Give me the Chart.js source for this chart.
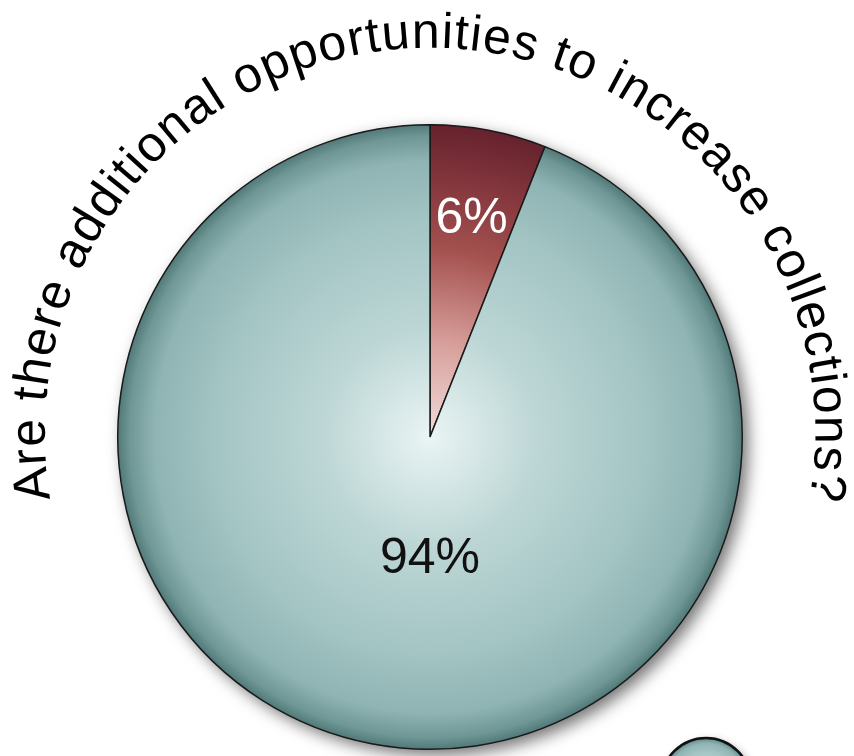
<!DOCTYPE html>
<html lang="en">
<head>
    <meta charset="UTF-8">
    <title>Additional opportunities to increase collections</title>
    <script src="https://cdn.jsdelivr.net/npm/chart.js"></script>
    <style>
        body { margin: 0; background: #fff; }
        .wrap { width: 854px; height: 756px; position: relative; }
    </style>
</head>
<body>
    <div class="wrap">
        <canvas id="pieChart"></canvas>
    </div>

    <script>
        const titleText = 'Are there additional opportunities to increase collections?';
        const answers = ['No', 'Yes'];
        const shares = [6, 94];
        const labelColors = ['#ffffff', '#111111'];

        const FONT = '"Liberation Sans", Arial, Helvetica, sans-serif';

        // radial gradients, light at the centre, dark at the rim
        const gradientStops = [
            [[0, '#f1dcdb'], [0.3, '#d8a09c'], [0.6, '#a4514f'], [0.85, '#7e323a'], [1, '#65222d']],
            [[0, '#eaf4f4'], [0.35, '#bcd6d5'], [0.7, '#a2c4c3'], [0.88, '#8fb4b3'], [0.96, '#6f9796'], [1, '#4f7776']]
        ];

        function arcGradient(ctx, i, x, y, r) {
            const g = ctx.createRadialGradient(x, y, 0, x, y, r);
            gradientStops[i].forEach(s => g.addColorStop(s[0], s[1]));
            return g;
        }

        // gradient centred on the chart area (the pie centre)
        function sliceFill(context) {
            const chart = context.chart;
            const area = chart.chartArea;
            if (!area) return gradientStops[context.dataIndex][2][1];
            const x = (area.left + area.right) / 2;
            const y = (area.top + area.bottom) / 2;
            const r = Math.min(area.right - area.left, area.bottom - area.top) / 2;
            return arcGradient(chart.ctx, context.dataIndex, x, y, r);
        }

        // soft shadow behind the whole pie
        const shadowPlugin = {
            id: 'pieShadow',
            beforeDatasetsDraw(chart) {
                const arc = chart.getDatasetMeta(0).data[0];
                if (!arc) return;
                const ctx = chart.ctx;
                ctx.save();
                ctx.shadowColor = 'rgba(0,0,0,0.55)';
                ctx.shadowBlur = 16;
                ctx.shadowOffsetX = 6;
                ctx.shadowOffsetY = 6;
                ctx.fillStyle = '#8fb4b3';
                ctx.beginPath();
                ctx.arc(arc.x, arc.y, arc.outerRadius, 0, Math.PI * 2);
                ctx.fill();
                ctx.restore();
            }
        };

        // percentage labels and curved title
        const decorPlugin = {
            id: 'decor',
            afterDatasetsDraw(chart) {
                const ctx = chart.ctx;
                const meta = chart.getDatasetMeta(0);
                const total = shares.reduce((a, b) => a + b, 0);
                ctx.save();
                ctx.font = '50px ' + FONT;
                ctx.textAlign = 'center';
                ctx.textBaseline = 'middle';
                meta.data.forEach((arc, i) => {
                    const pct = Math.round(shares[i] / total * 100) + '%';
                    let px, py;
                    if (shares[i] / total > 0.5) {
                        px = arc.x;
                        py = arc.y + arc.outerRadius * 0.39;
                    } else {
                        const mid = (arc.startAngle + arc.endAngle) / 2;
                        px = arc.x + Math.cos(mid) * arc.outerRadius * 0.71;
                        py = arc.y + Math.sin(mid) * arc.outerRadius * 0.71;
                    }
                    ctx.fillStyle = labelColors[i];
                    ctx.fillText(pct, px, py);
                });
                ctx.restore();

                // title along an arc around the pie
                const arc0 = meta.data[0];
                const cx = arc0.x, cy = arc0.y - 4;
                const R = arc0.outerRadius + 73;
                const spacing = 1.3;
                ctx.save();
                ctx.font = '50px ' + FONT;
                ctx.fillStyle = '#000';
                ctx.textAlign = 'center';
                ctx.textBaseline = 'alphabetic';
                const chars = Array.from(titleText);
                const totalW = ctx.measureText(titleText).width + spacing * (chars.length - 1);
                const a = -Math.PI / 2 - totalW / (2 * R);
                let used = 0;
                for (const ch of chars) {
                    const w = ctx.measureText(ch).width;
                    const ang = a + (used + w / 2) / R;
                    ctx.save();
                    ctx.translate(cx + Math.cos(ang) * R, cy + Math.sin(ang) * R);
                    ctx.rotate(ang + Math.PI / 2);
                    ctx.fillText(ch, 0, 0);
                    ctx.restore();
                    used += w + spacing;
                }
                ctx.restore();

                // legend bubble, cut off at the lower edge
                ctx.save();
                const bx = 706, by = 783, br = 45;
                ctx.shadowColor = 'rgba(0,0,0,0.4)';
                ctx.shadowBlur = 8;
                ctx.shadowOffsetX = 3;
                ctx.shadowOffsetY = 3;
                ctx.fillStyle = arcGradient(ctx, 1, bx, by, br);
                ctx.beginPath();
                ctx.arc(bx, by, br, 0, Math.PI * 2);
                ctx.fill();
                ctx.shadowColor = 'transparent';
                ctx.lineWidth = 2.5;
                ctx.strokeStyle = '#111';
                ctx.stroke();
                ctx.restore();
            }
        };

        const ctx = document.getElementById('pieChart').getContext('2d');
        const chart = new Chart(ctx, {
            type: 'pie',
            data: {
                labels: answers,
                datasets: [{
                    data: shares,
                    backgroundColor: sliceFill,
                    borderColor: '#1a1a1a',
                    borderWidth: 1.5
                }]
            },
            options: {
                responsive: true,
                maintainAspectRatio: false,
                animation: false,
                layout: {
                    padding: { left: 117, right: 111, top: 124, bottom: 6 }
                },
                plugins: {
                    legend: { display: false },
                    title: { display: false },
                    tooltip: { enabled: false }
                }
            },
            plugins: [shadowPlugin, decorPlugin]
        });
    </script>
</body>
</html>
